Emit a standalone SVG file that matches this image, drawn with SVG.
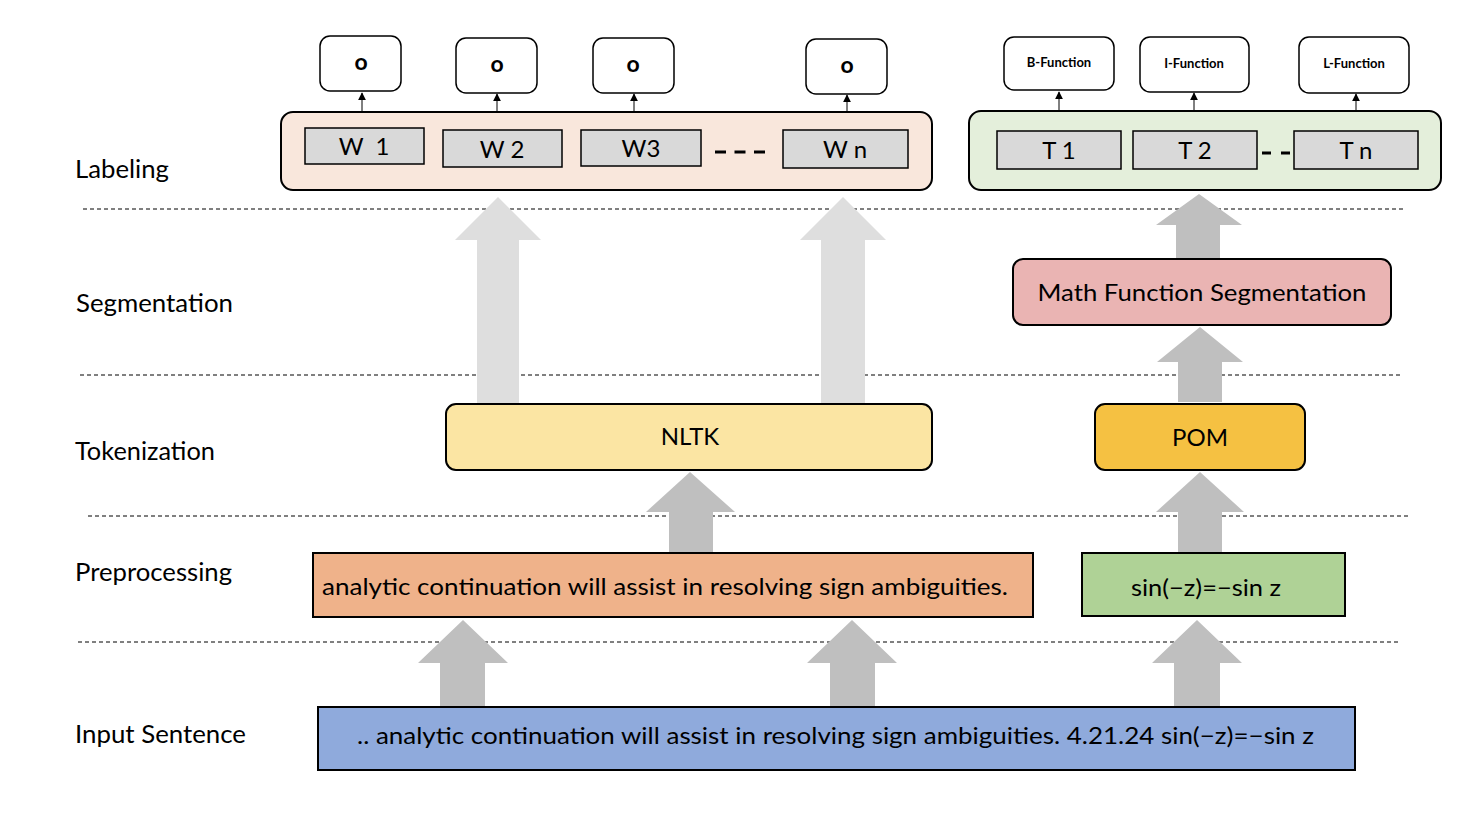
<svg xmlns="http://www.w3.org/2000/svg" width="1480" height="828" viewBox="0 0 1480 828">
<defs>
<style>
text{font-family:Lato,"Open Sans","Liberation Sans",sans-serif;fill:#000}
.lbl{font-size:25px}
.box{stroke:#000;stroke-width:2}
.tok{fill:#d9d9d9;stroke:#000;stroke-width:1.5}
.out{fill:#fff;stroke:#000;stroke-width:1.5}
.dash{stroke:#000;stroke-width:1;stroke-dasharray:4,3;fill:none}
.ga{fill:#bfbfbf}
.la{fill:#dedede}
.thin{stroke:#000;stroke-width:1;fill:none;marker-end:url(#ah)}
.t22{font-size:24px;text-anchor:middle}
.ob{font-size:23px;font-weight:bold;text-anchor:middle}
.fb{font-size:13px;font-weight:bold;text-anchor:middle}
</style>
<marker id="ah" viewBox="0 0 10 10" refX="9" refY="5" markerWidth="8" markerHeight="8" orient="auto" markerUnits="userSpaceOnUse">
<path d="M0,0 L10,5 L0,10 z" fill="#000"/>
</marker>
</defs>
<rect width="1480" height="828" fill="#fff"/>

<g id="layer-labels">
<text class="lbl" x="75" y="178" textLength="94" lengthAdjust="spacingAndGlyphs">Labeling</text>
<text class="lbl" x="76" y="312" textLength="157" lengthAdjust="spacingAndGlyphs">Segmentation</text>
<text class="lbl" x="75" y="460" textLength="140" lengthAdjust="spacingAndGlyphs">Tokenization</text>
<text class="lbl" x="75" y="581" textLength="157" lengthAdjust="spacingAndGlyphs">Preprocessing</text>
<text class="lbl" x="75" y="743" textLength="171" lengthAdjust="spacingAndGlyphs">Input Sentence</text>
</g>

<g id="separators">
<line class="dash" x1="83" y1="209" x2="1403" y2="209"/>
<line class="dash" x1="80" y1="375" x2="1400" y2="375"/>
<line class="dash" x1="88" y1="516" x2="1408" y2="516"/>
<line class="dash" x1="78" y1="642" x2="1398" y2="642"/>
</g>

<g id="connectors">
<path class="la" d="M477,403 L477,240 L455,240 L498,197 L541,240 L519,240 L519,403 Z"/>
<path class="la" d="M821,403 L821,240 L800,240 L843,197 L886,240 L865,240 L865,403 Z"/>
<path class="ga" d="M440,707 L440,663 L418,663 L463,620 L508,663 L485,663 L485,707 Z"/>
<path class="ga" d="M830,707 L830,663 L807,663 L852,620 L897,663 L875,663 L875,707 Z"/>
<path class="ga" d="M1174,707 L1174,663 L1152,663 L1197,620 L1242,663 L1220,663 L1220,707 Z"/>
<path class="ga" d="M669,553 L669,512 L646,512 L690,472 L735,512 L713,512 L713,553 Z"/>
<path class="ga" d="M1178,553 L1178,512 L1156,512 L1200,472 L1244,512 L1222,512 L1222,553 Z"/>
<path class="ga" d="M1178,402 L1178,362 L1157,362 L1200,327 L1243,362 L1222,362 L1222,402 Z"/>
<path class="ga" d="M1176,259 L1176,225 L1156,225 L1199,194 L1242,225 L1220,225 L1220,259 Z"/>
<line class="thin" x1="362" y1="128" x2="362" y2="93"/>
<line class="thin" x1="497" y1="130" x2="497" y2="94"/>
<line class="thin" x1="634" y1="130" x2="634" y2="94"/>
<line class="thin" x1="847" y1="130" x2="847" y2="95"/>
<line class="thin" x1="1059" y1="131" x2="1059" y2="92"/>
<line class="thin" x1="1194" y1="131" x2="1194" y2="93"/>
<line class="thin" x1="1356" y1="131" x2="1356" y2="94"/>
</g>

<g id="labeling-words">
<rect class="box" x="281" y="112" width="651" height="78" rx="12" fill="#f9e7dc"/>
</g>
<g id="labeling-math">
<rect class="box" x="969" y="111" width="472" height="79" rx="12" fill="#e4efdb"/>
</g>

<g id="W1"><rect class="tok" x="305" y="128" width="119" height="36"/><text class="t22" x="364" y="155" xml:space="preserve">W  1</text></g>
<g id="W2"><rect class="tok" x="443" y="130" width="119" height="37"/><text class="t22" x="502" y="158">W 2</text></g>
<g id="W3"><rect class="tok" x="581" y="130" width="120" height="36"/><text class="t22" x="641" y="157">W3</text></g>
<g id="Wn"><rect class="tok" x="783" y="130" width="125" height="38"/><text class="t22" x="845" y="158">W n</text></g>
<g id="w-ellipsis"><line x1="715" y1="152" x2="765" y2="152" stroke="#000" stroke-width="3" stroke-dasharray="11,8.5"/></g>

<g id="T1"><rect class="tok" x="997" y="131" width="124" height="38"/><text class="t22" x="1059" y="159">T 1</text></g>
<g id="T2"><rect class="tok" x="1133" y="131" width="124" height="38"/><text class="t22" x="1195" y="159">T 2</text></g>
<g id="Tn"><rect class="tok" x="1294" y="131" width="124" height="38"/><text class="t22" x="1356" y="159">T n</text></g>
<g id="t-ellipsis"><line x1="1262" y1="153" x2="1290" y2="153" stroke="#000" stroke-width="3" stroke-dasharray="9,10"/></g>

<g id="O1"><rect class="out" x="320" y="36" width="81" height="55" rx="10"/><text class="ob" x="361" y="70">o</text></g>
<g id="O2"><rect class="out" x="456" y="38" width="81" height="55" rx="10"/><text class="ob" x="497" y="72">o</text></g>
<g id="O3"><rect class="out" x="593" y="38" width="81" height="55" rx="10"/><text class="ob" x="633" y="72">o</text></g>
<g id="O4"><rect class="out" x="806" y="39" width="81" height="55" rx="10"/><text class="ob" x="847" y="73">o</text></g>

<g id="BF"><rect class="out" x="1004" y="37" width="110" height="53" rx="10"/><text class="fb" x="1059" y="67">B-Function</text></g>
<g id="IF"><rect class="out" x="1140" y="37" width="109" height="55" rx="10"/><text class="fb" x="1194" y="68">I-Function</text></g>
<g id="LF"><rect class="out" x="1299" y="37" width="110" height="56" rx="10"/><text class="fb" x="1354" y="68">L-Function</text></g>

<g id="MFS"><rect class="box" x="1013" y="259" width="378" height="66" rx="10" fill="#eab4b3"/><text x="1202" y="301" font-size="24" text-anchor="middle" textLength="329" lengthAdjust="spacingAndGlyphs">Math Function Segmentation</text></g>

<g id="NLTK"><rect class="box" x="446" y="404" width="486" height="66" rx="10" fill="#fbe5a3"/><text class="t22" x="690" y="445">NLTK</text></g>
<g id="POM"><rect class="box" x="1095" y="404" width="210" height="66" rx="10" fill="#f5c142"/><text class="t22" x="1200" y="446">POM</text></g>

<g id="pre-text"><rect class="box" x="313" y="553" width="720" height="64" fill="#efb28a"/><text x="322" y="595" font-size="23" textLength="686" lengthAdjust="spacingAndGlyphs">analytic continuation will assist in resolving sign ambiguities.</text></g>
<g id="pre-math"><rect class="box" x="1082" y="553" width="263" height="63" fill="#afd296"/><text x="1206" y="596" font-size="23" text-anchor="middle" textLength="150" lengthAdjust="spacingAndGlyphs">sin(−z)=−sin z</text></g>

<g id="input"><rect class="box" x="318" y="707" width="1037" height="63" fill="#8faadc"/><text x="357" y="744" font-size="24" textLength="957" lengthAdjust="spacingAndGlyphs">.. analytic continuation will assist in resolving sign ambiguities. 4.21.24 sin(−z)=−sin z</text></g>
</svg>
